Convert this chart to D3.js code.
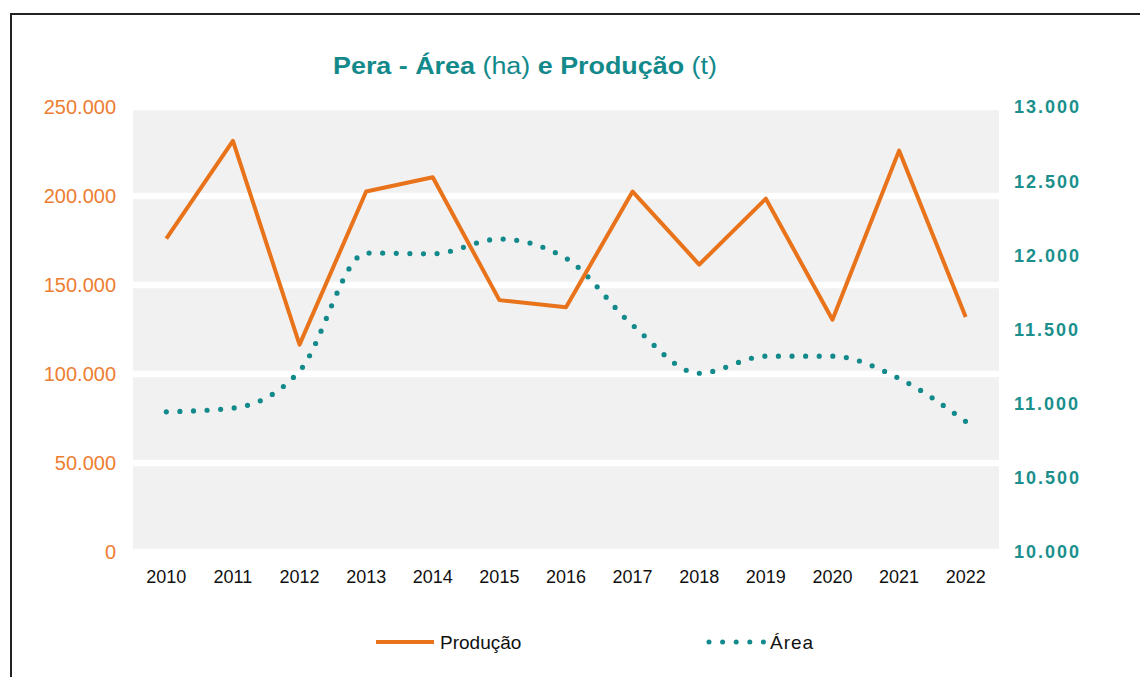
<!DOCTYPE html>
<html><head><meta charset="utf-8">
<script src="https://cdn.jsdelivr.net/npm/d3@7"></script>
<style>body{margin:0;background:#fff;}svg{display:block;font-family:"Liberation Sans",Arial,sans-serif;}</style>
</head><body>
<svg id="c" width="1140" height="677"></svg>
<script>
const years = ["2010","2011","2012","2013","2014","2015","2016","2017","2018","2019","2020","2021","2022"];
const producao = [176000, 231000, 116500, 202500, 210500, 141500, 137500, 202500, 161500, 198500, 130500, 225500, 132000];
const area = [10945, 10970, 11220, 12015, 12010, 12110, 11980, 11530, 11205, 11320, 11320, 11170, 10880];
const leftTicks = [0, 50000, 100000, 150000, 200000, 250000];
const rightTicks = [10000, 10500, 11000, 11500, 12000, 12500, 13000];

const orange = "#E8731A", teal = "#12898A";
const svg = d3.select("#c");
svg.append("rect").attr("x",11).attr("y",14).attr("width",1140).attr("height",700)
  .attr("fill","none").attr("stroke","#222").attr("stroke-width",2);

const L=133, R=999, T=107, B=552;
const x = d3.scaleBand().domain(years).range([L,R]);
const yL = d3.scaleLinear().domain([0,250000]).range([B,T]);
const yR = d3.scaleLinear().domain([10000,13000]).range([B,T]);

svg.append("rect").attr("x",L).attr("y",T-3).attr("width",R-L).attr("height",B-T+3).attr("fill","#F1F1F1");
svg.append("g").selectAll("line").data(leftTicks).join("line")
  .attr("x1",L).attr("x2",R).attr("y1",d=>yL(d)).attr("y2",d=>yL(d))
  .attr("stroke","#fff").attr("stroke-width",6.6);

const fmt = d => d3.format(",")(d).replace(/,/g,".");
svg.append("g").selectAll("text").data(leftTicks).join("text")
  .attr("x",116).attr("y",d=>yL(d)).attr("dy","0.36em").attr("text-anchor","end")
  .attr("fill","#ED7D31").attr("font-size",20).text(fmt);
svg.append("g").selectAll("text").data(rightTicks).join("text")
  .attr("x",1014).attr("y",d=>yR(d)).attr("dy","0.36em").attr("text-anchor","start")
  .attr("fill","#1A8F8C").attr("font-size",18).attr("font-weight","bold").attr("letter-spacing",2).text(fmt);
svg.append("g").selectAll("text").data(years).join("text")
  .attr("x",d=>x(d)+x.bandwidth()/2).attr("y",577).attr("dy","0.36em").attr("text-anchor","middle")
  .attr("fill","#111").attr("font-size",18).text(d=>d);

const cx = (d,i)=>x(years[i])+x.bandwidth()/2;
svg.append("path").datum(area)
  .attr("d", d3.line().x(cx).y(d=>yR(d)).curve(d3.curveMonotoneX))
  .attr("fill","none").attr("stroke",teal).attr("stroke-width",5.2)
  .attr("stroke-linecap","round").attr("stroke-dasharray","0 13.6");
svg.append("path").datum(producao)
  .attr("d", d3.line().x(cx).y(d=>yL(d)))
  .attr("fill","none").attr("stroke",orange).attr("stroke-width",4).attr("stroke-linejoin","round");

const t = svg.append("text").attr("x",525).attr("y",74).attr("text-anchor","middle")
  .attr("font-size",23).attr("fill",teal).attr("textLength",384).attr("lengthAdjust","spacingAndGlyphs");
t.append("tspan").attr("font-weight","bold").text("Pera - Área ");
t.append("tspan").text("(ha)");
t.append("tspan").attr("font-weight","bold").text(" e Produção ");
t.append("tspan").text("(t)");

svg.append("line").attr("x1",376).attr("x2",434).attr("y1",642).attr("y2",642)
  .attr("stroke",orange).attr("stroke-width",4);
svg.append("text").attr("x",440).attr("y",642).attr("dy","0.36em").attr("font-size",19).attr("fill","#111").text("Produção");
svg.append("line").attr("x1",709).attr("x2",765).attr("y1",642).attr("y2",642)
  .attr("stroke",teal).attr("stroke-width",5).attr("stroke-linecap","round").attr("stroke-dasharray","0 13.6");
svg.append("text").attr("x",770).attr("y",642).attr("dy","0.36em").attr("font-size",19).attr("letter-spacing",1).attr("fill","#111").text("Área");
</script>
</body></html>
